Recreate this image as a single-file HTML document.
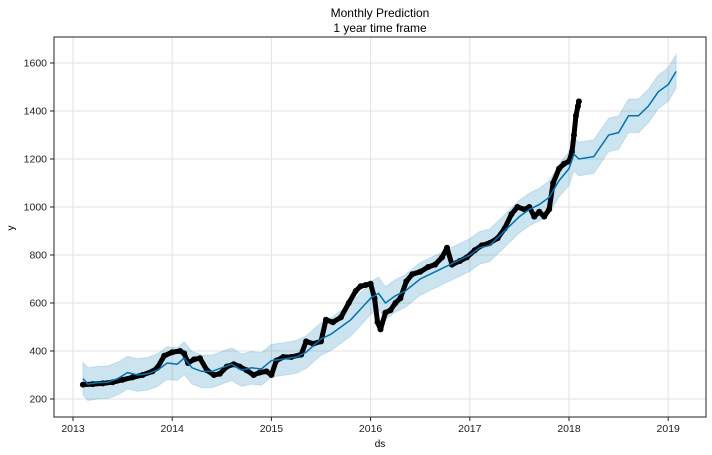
<!DOCTYPE html>
<html><head><meta charset="utf-8"><style>
body{margin:0;background:#fff;}
svg{display:block;font-family:"Liberation Sans","DejaVu Sans",sans-serif;}
</style></head><body>
<svg id="chart" width="712" height="455">
<text x="380" y="17" text-anchor="middle" font-size="12">Monthly Prediction</text>
<text x="380" y="32" text-anchor="middle" font-size="12">1 year time frame</text>
<text x="380" y="447" text-anchor="middle" font-size="10">ds</text>
<text x="14" y="228" text-anchor="middle" font-size="10" transform="rotate(-90 14 228)">y</text>
<g id="grid"></g><g id="band"></g><g id="actual"></g><g id="fcst"></g><g id="axes"></g>
</svg>
<script>
const actualT=[2013.1,2013.2,2013.3,2013.4,2013.5,2013.6,2013.7,2013.8,2013.85,2013.92,2014.0,2014.08,2014.12,2014.16,2014.22,2014.28,2014.35,2014.42,2014.48,2014.55,2014.62,2014.68,2014.75,2014.82,2014.88,2014.95,2015.0,2015.05,2015.12,2015.2,2015.3,2015.35,2015.42,2015.5,2015.55,2015.62,2015.7,2015.78,2015.85,2015.9,2015.95,2016.0,2016.04,2016.07,2016.1,2016.15,2016.2,2016.25,2016.3,2016.36,2016.42,2016.5,2016.58,2016.65,2016.72,2016.77,2016.82,2016.9,2016.97,2017.05,2017.12,2017.2,2017.28,2017.35,2017.42,2017.48,2017.55,2017.6,2017.65,2017.7,2017.75,2017.8,2017.84,2017.9,2017.95,2018.0,2018.03,2018.05,2018.07,2018.09,2018.1];
const actualY=[260,262,265,270,280,290,300,315,330,380,395,400,390,350,365,370,320,300,305,335,345,335,320,300,310,315,300,360,375,375,385,440,430,440,530,520,540,600,650,670,675,680,620,520,490,560,570,600,620,690,720,730,750,760,790,830,760,775,790,820,840,850,870,910,970,1000,990,1000,960,980,960,990,1100,1160,1180,1190,1230,1300,1380,1420,1440];
const fcstT=[2013.1,2013.15,2013.25,2013.35,2013.45,2013.55,2013.65,2013.75,2013.85,2013.95,2014.05,2014.12,2014.2,2014.3,2014.4,2014.5,2014.6,2014.7,2014.8,2014.9,2015.0,2015.1,2015.25,2015.35,2015.5,2015.6,2015.7,2015.8,2015.9,2016.0,2016.08,2016.15,2016.25,2016.35,2016.5,2016.6,2016.7,2016.8,2016.9,2017.0,2017.1,2017.2,2017.3,2017.4,2017.5,2017.6,2017.7,2017.8,2017.9,2018.0,2018.05,2018.1,2018.25,2018.4,2018.5,2018.6,2018.7,2018.8,2018.9,2019.0,2019.08];
const fcstY=[285,262,268,270,285,310,300,305,320,350,345,370,330,315,315,330,345,320,330,325,360,365,375,395,450,470,500,530,575,620,640,600,630,650,700,720,740,760,780,800,830,840,880,920,960,990,1010,1040,1110,1160,1220,1200,1210,1300,1310,1380,1380,1420,1480,1510,1565];
const bandW=[68,68,68,68,68,68,68,68,68,68,68,68,68,68,68,68,68,68,68,68,68,68,68,68,68,68,68,68,68,68,68,68,68,68,68,68,68,68,68,68,68,68,68,68,68,68,68,68,68,70,70,70,70,70,70,70,70,70,70,70,70];
const yTicks=[200,400,600,800,1000,1200,1400,1600];
const xTicks=[2013,2014,2015,2016,2017,2018,2019];
const L=54,R=706,T=37,B=417;
const X=t=>73+(t-2013)*99.2;
const Y=v=>399-(v-200)*0.24;
const NS="http://www.w3.org/2000/svg";
function mk(p,tag,a){const e=document.createElementNS(NS,tag);for(const k in a)e.setAttribute(k,a[k]);document.getElementById(p).appendChild(e);return e;}
yTicks.forEach(v=>{
 const g=mk('grid','line',{x1:L,x2:R,y1:Y(v),y2:Y(v),stroke:'#e2e2e2','stroke-width':1});
 
 
 const tk=mk('axes','line',{x1:L-4,x2:L,y1:Y(v),y2:Y(v),stroke:'#222'});
 
 
 const tx=mk('axes','text',{x:L-7,y:Y(v)+3.5,'text-anchor':'end','font-size':10.5,fill:'#222'});
 tx.textContent=v;
 
 
});
xTicks.forEach(t=>{
 const g=mk('grid','line',{x1:X(t),x2:X(t),y1:T,y2:B,stroke:'#e2e2e2','stroke-width':1});
 
 
 const tk=mk('axes','line',{x1:X(t),x2:X(t),y1:B,y2:B+4,stroke:'#222'});
 
 
 const tx=mk('axes','text',{x:X(t),y:B+15,'text-anchor':'middle','font-size':10.5,fill:'#222'});
 tx.textContent=t;
 
 
});
let up=fcstT.map((t,i)=>X(t)+','+Y(fcstY[i]+bandW[i]));
let lo=fcstT.map((t,i)=>X(t)+','+Y(fcstY[i]-bandW[i])).reverse();
const band=mk('band','polygon',{points:up.concat(lo).join(' '),fill:'#0072b2','fill-opacity':0.2,stroke:'#0072b2','stroke-opacity':0.15});


const al=mk('actual','polyline',{points:actualT.map((t,i)=>X(t)+','+Y(actualY[i])).join(' '),fill:'none',stroke:'#000','stroke-width':5,'stroke-linejoin':'round','stroke-linecap':'round'});


actualT.forEach((t,i)=>{
 const c=mk('actual','circle',{cx:X(t),cy:Y(actualY[i]),r:3,fill:'#000'});
 
 
});
const fl=mk('fcst','polyline',{points:fcstT.map((t,i)=>X(t)+','+Y(fcstY[i])).join(' '),fill:'none',stroke:'#0072b2','stroke-width':1.5});


const fr=mk('axes','rect',{x:L,y:T,width:R-L,height:B-T,fill:'none',stroke:'#222','stroke-width':1});


</script>
</body></html>
